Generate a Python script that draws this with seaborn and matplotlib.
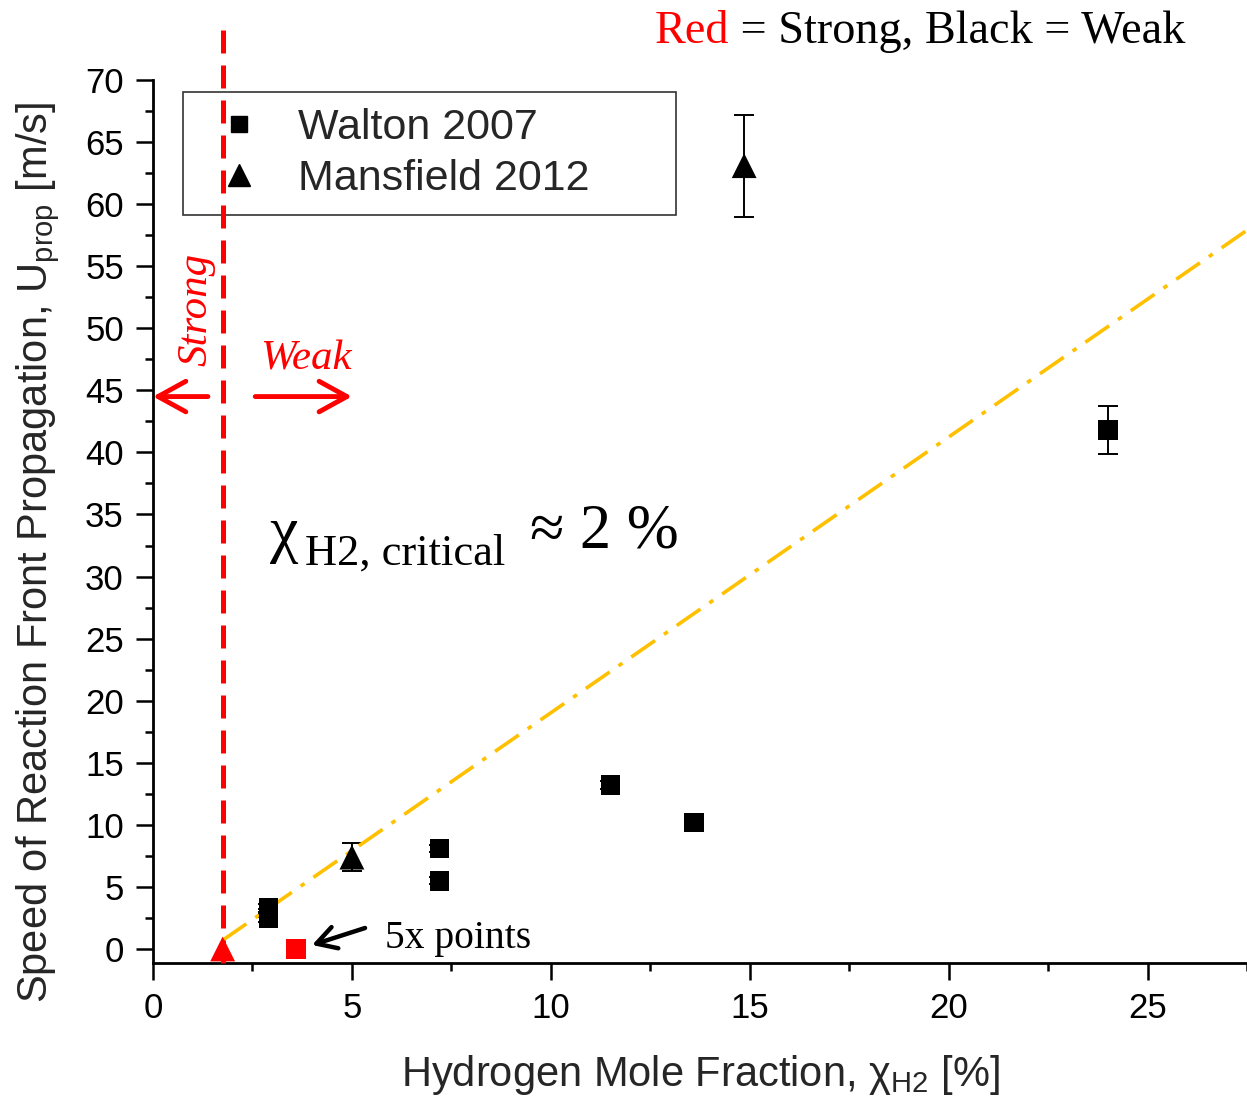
import numpy as np
import pandas as pd
import matplotlib
matplotlib.use("Agg")
import matplotlib.pyplot as plt
import seaborn as sns
from matplotlib.lines import Line2D
from matplotlib.ticker import MultipleLocator

# ---------------- data ----------------
walton_x = [2.9, 2.9, 2.9, 7.2, 7.2, 11.5, 13.6, 24.0]
walton_y = [2.5, 2.9, 3.3, 8.1, 5.5, 13.2, 10.2, 41.8]
walton_err = [0.3, 0.3, 0.3, 0.3, 0.3, 0.3, 0.3, 1.9]
walton_regime = ["Weak"] * 8

walton_strong_x = [3.6, 3.6, 3.6, 3.6, 3.6]   # "5x points"
walton_strong_y = [0.0, 0.0, 0.0, 0.0, 0.0]

mansfield_x = [5.0, 14.86]
mansfield_y = [7.4, 63.1]
mansfield_err = [1.1, 4.1]

mansfield_strong_x = [1.75]
mansfield_strong_y = [0.0]

critical_x = 1.75
fit_x = [1.75, 27.5]
fit_y = [0.7, 57.9]

x_ticks = [0, 5, 10, 15, 20, 25]
y_ticks = [0, 5, 10, 15, 20, 25, 30, 35, 40, 45, 50, 55, 60, 65, 70]

walton = pd.DataFrame({
    "x": walton_x + walton_strong_x,
    "y": walton_y + walton_strong_y,
    "err": walton_err + [0.0] * len(walton_strong_x),
    "regime": walton_regime + ["Strong"] * len(walton_strong_x),
})
mansfield = pd.DataFrame({
    "x": mansfield_x + mansfield_strong_x,
    "y": mansfield_y + mansfield_strong_y,
    "err": mansfield_err + [0.0] * len(mansfield_strong_x),
    "regime": ["Weak"] * len(mansfield_x) + ["Strong"] * len(mansfield_strong_x),
})

# ---------------- style ----------------
sns.set_style("ticks")
plt.rcParams["font.family"] = ["Liberation Sans", "DejaVu Sans"]
plt.rcParams["mathtext.default"] = "regular"
SERIF = ["Liberation Serif", "DejaVu Serif"]
palette = {"Weak": "black", "Strong": "#ff0000"}

fig = plt.figure(figsize=(12.47, 11.05), dpi=100)
ax = fig.add_axes([0.1227, 0.1285, 0.8773, 0.7991])

# error bars (weak points only)
for df in (walton, mansfield):
    w = df[df.regime == "Weak"]
    ax.errorbar(w.x, w.y, yerr=w.err, fmt="none", ecolor="black",
                elinewidth=1.4, capsize=7.5, capthick=1.4, zorder=2)

sns.scatterplot(data=walton, x="x", y="y", hue="regime", palette=palette,
                marker="s", s=200, linewidth=0, legend=False, ax=ax, zorder=3)
sns.scatterplot(data=mansfield, x="x", y="y", hue="regime", palette=palette,
                marker="^", s=320, linewidth=0, legend=False, ax=ax, zorder=3)

# fit line (dash-dot, gold)
sns.lineplot(x=fit_x, y=fit_y, color="#ffc000", lw=2.6, ax=ax, zorder=2)
ax.lines[-1].set_dashes([8, 3, 1.3, 3])

# critical vertical dashed line
ax.plot([critical_x, critical_x], [-1.13, 74.3], color="#ff0000", lw=3.6,
        dashes=(4.6, 2.4), clip_on=False, zorder=6)

ax.set_xlim(0, 27.5)
ax.set_ylim(-1.13, 70)
ax.set_xticks(x_ticks)
ax.set_yticks(y_ticks)
ax.xaxis.set_minor_locator(MultipleLocator(2.5))
ax.yaxis.set_minor_locator(MultipleLocator(2.5))
ax.tick_params(which="major", direction="out", length=12, width=1.8,
               labelsize=25, pad=9, color="black", labelcolor="black")
ax.tick_params(which="minor", direction="out", length=6, width=1.8, color="black")
for s in ("top", "right"):
    ax.spines[s].set_visible(False)
for s in ("left", "bottom"):
    ax.spines[s].set_linewidth(2.0)
    ax.spines[s].set_color("black")

ax.set_xlabel("Hydrogen Mole Fraction, χ$_{H2}$ [%]", fontsize=30)
ax.set_ylabel("Speed of Reaction Front Propagation, U$_{prop}$ [m/s]", fontsize=30)
ax.xaxis.set_label_coords(0.5, -0.102)
ax.yaxis.set_label_coords(-0.083, 0.465)

# legend
handles = [Line2D([], [], marker="s", ls="none", color="black", markersize=12),
           Line2D([], [], marker="^", ls="none", color="black", markersize=16)]
leg = ax.legend(handles, ["Walton 2007", "Mansfield 2012"], loc="upper left",
                bbox_to_anchor=(0.0274, 0.853, 0.451, 0.1334), mode="expand",
                borderaxespad=0, frameon=True, fancybox=False, framealpha=1,
                edgecolor="#333333", fontsize=31, handlelength=1.85,
                handletextpad=0.45, borderpad=0.38, labelspacing=0.25)
leg.get_frame().set_linewidth(1.2)
leg.set_zorder(5)

# strong / weak annotations
arrow_red = dict(arrowstyle="->,head_length=1.0,head_width=0.55", lw=3.5,
                 color="#ff0000", shrinkA=0, shrinkB=0, mutation_scale=20)
ax.annotate("", xy=(0.0, 44.5), xytext=(1.38, 44.5), arrowprops=arrow_red)
ax.annotate("", xy=(5.0, 44.5), xytext=(2.57, 44.5), arrowprops=arrow_red)
ax.text(3.85, 47.5, "Weak", color="#ff0000", fontsize=31, style="italic",
        family=SERIF, ha="center", va="center")
ax.text(1.08, 51.5, "Strong", color="#ff0000", fontsize=31, style="italic",
        family=SERIF, ha="center", va="center", rotation=90)

# critical mole fraction annotation
ax.text(2.94, 32.15, "χ", fontsize=46, family=SERIF, ha="left",
        va="baseline", color="black")
ax.text(3.82, 30.94, "H2, critical", fontsize=32, family=SERIF, ha="left",
        va="baseline", color="black")
ax.text(9.48, 32.31, "≈ 2 %", fontsize=45, family=SERIF,
        ha="left", va="baseline", color="black")

ax.annotate("", xy=(4.0, 0.32), xytext=(5.33, 1.69),
            arrowprops=dict(arrowstyle="->,head_length=0.7,head_width=0.4",
                            lw=3.2, color="black", shrinkA=0, shrinkB=0,
                            mutation_scale=20))
ax.text(5.84, 0.1, "5x points", fontsize=28.5, family=SERIF, ha="left",
        va="baseline", color="black")

t1 = fig.text(655 / 1247, 1 - 53 / 1105, "Red", color="#ff0000", fontsize=33.3,
              family=SERIF, ha="left", va="bottom")
ax.annotate(" = Strong, Black = Weak", xy=(1, 0), xycoords=t1, fontsize=33.3,
            family=SERIF, ha="left", va="bottom", color="black")

fig.savefig("out.png", dpi=100)
